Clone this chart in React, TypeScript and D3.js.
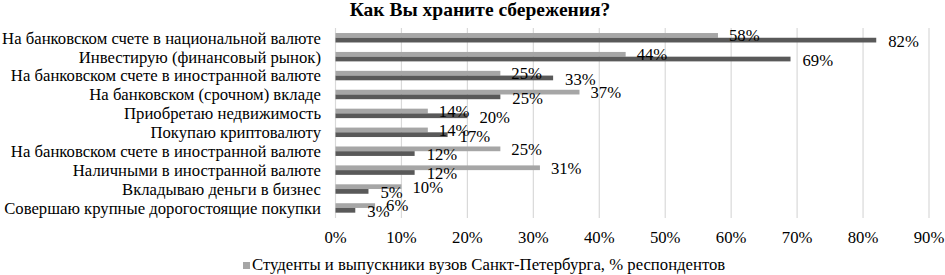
import React from "react";
import * as d3 from "d3";

const categories = [
  "На банковском счете в национальной валюте",
  "Инвестирую (финансовый рынок)",
  "На банковском счете в иностранной валюте",
  "На банковском (срочном) вкладе ",
  "Приобретаю недвижимость",
  "Покупаю криптовалюту",
  "На банковском счете в иностранной валюте",
  "Наличными в иностранной валюте",
  "Вкладываю деньги в бизнес",
  "Совершаю крупные дорогостоящие покупки",
];
const studentsValues = [58, 44, 25, 37, 14, 14, 25, 31, 10, 6];
const otherValues = [82, 69, 33, 25, 20, 17, 12, 12, 5, 3];
const xTicks = [0, 10, 20, 30, 40, 50, 60, 70, 80, 90];
const titleText = "Как Вы храните сбережения?";
const legendLabel = "Студенты и выпускники вузов Санкт-Петербурга, % респондентов";

const W = 945;
const H = 275;
const FONT = "Liberation Serif";
const LIGHT = "#a6a6a6";
const DARK = "#595959";
const GRID = "#d9d9d9";

export default function App() {
  const x = d3.scaleLinear().domain([0, 90]).range([335.5, 929]);
  const y = d3
    .scaleBand<number>()
    .domain(d3.range(categories.length))
    .range([28.3, 217.4])
    .padding(0);
  const bw = y.bandwidth();
  const barH = bw * 0.25;
  const fs = 16.7;

  return (
    <svg
      width={W}
      height={H}
      style={{ position: "absolute", left: 0, top: 0, background: "#fff", fontFamily: FONT }}
    >
      <rect width={W} height={H} fill="#fff" />
      <text x={480} y={16} textAnchor="middle" fontWeight="bold" fontSize={19.5} fill="#000">
        {titleText}
      </text>
      {xTicks.map((t) => (
        <g key={t}>
          <line x1={x(t)} x2={x(t)} y1={28} y2={218} stroke={GRID} strokeWidth={1.2} />
          <text x={x(t)} y={243} textAnchor="middle" fontSize={fs} fill="#000">
            {t}%
          </text>
        </g>
      ))}
      {categories.map((c, i) => {
        const cy = (y(i) as number) + bw / 2;
        return (
          <text key={"c" + i} x={321} y={cy} dy="0.35em" textAnchor="end" fontSize={fs} fill="#000">
            {c}
          </text>
        );
      })}
      {categories.map((c, i) => {
        const cy = (y(i) as number) + bw / 2;
        return (
          <g key={"b" + i}>
            <rect x={x(0)} y={cy - barH} width={x(studentsValues[i]) - x(0)} height={barH} fill={LIGHT} />
            <rect x={x(0)} y={cy} width={x(otherValues[i]) - x(0)} height={barH} fill={DARK} />
          </g>
        );
      })}
      {categories.map((c, i) => {
        const cy = (y(i) as number) + bw / 2;
        return (
          <g key={"l" + i}>
            <text x={x(studentsValues[i]) + 11} y={cy - barH / 2} dy="0.35em" fontSize={fs} fill="#000">
              {studentsValues[i]}%
            </text>
            <text x={x(otherValues[i]) + 12} y={cy + barH / 2 + 1} dy="0.35em" fontSize={fs} fill="#000">
              {otherValues[i]}%
            </text>
          </g>
        );
      })}
      <rect x={243} y={262} width={7} height={7} fill={LIGHT} />
      <text x={252} y={270} fontSize={fs} fill="#000">
        {legendLabel}
      </text>
    </svg>
  );
}
